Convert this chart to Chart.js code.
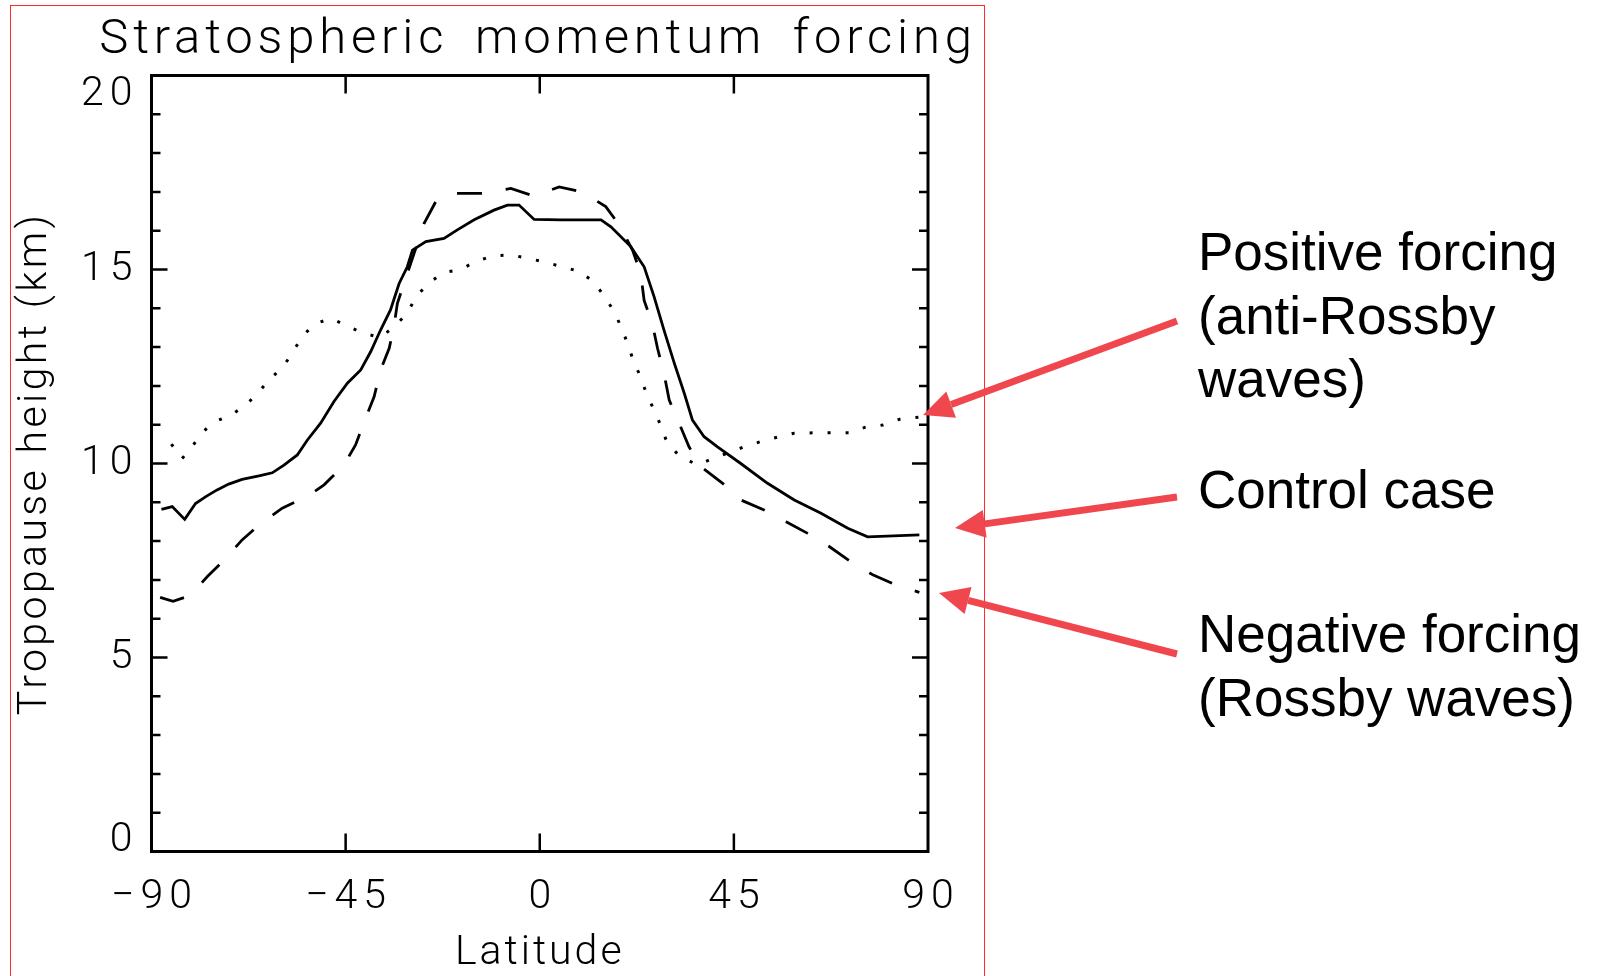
<!DOCTYPE html>
<html>
<head>
<meta charset="utf-8">
<script src="https://cdn.jsdelivr.net/npm/chart.js@4.4.1/dist/chart.umd.min.js"></script>
<style>
  html, body { margin: 0; padding: 0; background: #fff; }
  #wrap { position: relative; width: 1598px; height: 976px; overflow: hidden; }
  #frame { position: absolute; left: 10px; top: 5px; width: 973px; height: 1000px; border: 1px solid #ff2a2a; }
  canvas { position: absolute; left: 0; top: 0; }
  .title { position: absolute; left: 0; top: 12px; width: 1076px; text-align: center; white-space: nowrap;
           font: 300 49px Roboto, sans-serif; line-height: 49px; letter-spacing: 4.8px; word-spacing: 10px; color: #000; }
  .note { position: absolute; left: 1198px; white-space: nowrap; color: #000;
          font: 53px "Liberation Sans", Arial, sans-serif; line-height: 63.5px; }
</style>
</head>
<body>
<div id="wrap">
  <div id="frame"></div>
  <canvas id="chart" width="1598" height="976"></canvas>
  <div class="title">Stratospheric momentum forcing</div>
  <div class="note" style="top:220px">Positive forcing<br>(anti-Rossby<br>waves)</div>
  <div class="note" style="top:458px">Control case</div>
  <div class="note" style="top:602px">Negative forcing<br>(Rossby waves)</div>
</div>
<script>
// control case (solid)
const controlLat = [-87.7, -85.2, -82.3, -79.8, -77.5, -74.8, -72.1, -69.0, -65.1, -62.0, -59.3, -56.2,
  -53.9, -50.8, -47.7, -44.6, -41.5, -39.2, -36.9, -34.6, -32.6, -30.7, -29.5, -26.4, -22.2, -19.1,
  -15.2, -10.6, -7.5, -4.8, -1.3, 5.0, 14.2, 16.5, 21.1, 24.2, 26.5, 28.8, 31.2, 33.5, 35.4, 38.1,
  41.2, 46.6, 52.8, 59.0, 65.2, 71.4, 76.0, 88.0];
const controlHeight = [8.82, 8.89, 8.56, 8.97, 9.14, 9.32, 9.47, 9.59, 9.68, 9.76, 9.96, 10.22,
  10.6, 11.04, 11.6, 12.07, 12.41, 12.88, 13.44, 13.96, 14.64, 15.07, 15.5, 15.72, 15.8, 16.02,
  16.28, 16.53, 16.66, 16.66, 16.29, 16.28, 16.28, 16.1, 15.59, 15.07, 14.3, 13.44, 12.58, 11.81, 11.12, 10.69,
  10.43, 10.0, 9.49, 9.06, 8.72, 8.33, 8.11, 8.16];

// negative forcing, Rossby waves (dashed)
const negativeLat = [-88.0, -85.0, -81.0, -77.1, -73.2, -69.0, -65.1, -59.7, -53.9, -50.0, -45.4, -42.7,
  -40.4, -38.4, -36.9, -34.9, -33.8, -33.0, -26.8, -24.1, -21.0, -18.7, -12.5, -6.7, -1.3, 4.5, 9.9,
  15.3, 18.4, 21.5, 23.4, 24.2, 26.1, 27.3, 28.8, 30.0, 32.3, 34.6, 37.3, 42.4, 46.6, 52.0, 57.1,
  62.1, 67.1, 72.1, 77.2, 82.6, 88.0];
const negativeHeight = [6.55, 6.45, 6.6, 7.08, 7.51, 8.03, 8.41, 8.85, 9.15, 9.45, 9.96, 10.48,
  11.16, 11.72, 12.41, 12.97, 13.53, 14.13, 16.19, 16.75, 16.96, 16.96, 16.96, 17.09, 16.89, 17.13, 17.0,
  16.62, 16.15, 15.5, 14.9, 14.2, 13.6, 12.97, 12.32, 11.64, 11.04, 10.43, 9.92, 9.49, 9.06, 8.8, 8.5,
  8.2, 7.86, 7.47, 7.13, 6.87, 6.68];

// positive forcing, anti-Rossby waves (dotted)
const positiveLat = [-85.4, -82.9, -80.6, -78.4, -75.2, -71.3, -68.0, -65.1, -62.4, -59.5, -57.2, -55.0,
  -52.2, -48.3, -44.4, -40.7, -37.0, -34.0, -30.7, -28.8, -26.0, -22.3, -18.5, -14.8, -11.0, -6.7,
  -2.9, 0.9, 5.2, 8.9, 12.5, 14.9, 17.3, 18.8, 20.2, 21.7, 23.3, 24.7, 26.4, 28.1, 29.5, 32.4, 36.6,
  39.7, 47.4, 51.1, 55.4, 59.0, 63.3, 67.5, 71.8, 75.3, 79.5, 83.4, 88.5];
const positiveHeight = [10.5, 10.13, 10.43, 10.79, 11.08, 11.27, 11.52, 11.85, 12.19, 12.49, 12.88, 13.28,
  13.6, 13.74, 13.53, 13.35, 13.25, 13.5, 13.87, 14.28, 14.63, 14.92, 15.0, 15.2, 15.35, 15.38,
  15.29, 15.2, 15.07, 14.96, 14.69, 14.32, 13.91, 13.53, 13.14, 12.65, 12.25, 11.81, 11.4, 10.97, 10.54, 10.19, 9.96,
  10.11, 10.43, 10.56, 10.69, 10.78, 10.79, 10.79, 10.79, 10.93, 10.99, 11.14, 11.2];

const latTicks = [-90, -45, 0, 45, 90];
const heightTicks = [0, 5, 10, 15, 20];

const pts = (xs, ys) => xs.map((x, i) => ({ x, y: ys[i] }));
const tickFont = { family: 'Roboto', weight: 300, size: 41, lineHeight: 1 };

// wider spacing, like the old vector font
function spaced(scale, titleGap, labelGap) {
  const ctx = scale.ctx;
  const drawTitle = scale.drawTitle, drawLabels = scale.drawLabels;
  scale.drawTitle = function () { ctx.letterSpacing = titleGap; drawTitle.apply(this, arguments); ctx.letterSpacing = '0px'; };
  scale.drawLabels = function () { ctx.letterSpacing = labelGap; drawLabels.apply(this, arguments); ctx.letterSpacing = '0px'; };
}

const framePlugin = {
  id: 'frame',
  afterLayout(chart) {
    spaced(chart.scales.x, '3px', '6px');
    spaced(chart.scales.y, '3.4px', '6px');
  },
  beforeDraw(chart) {
    // IDL style: end labels on the y axis are pulled inside the axis range
    const y = chart.scales.y;
    y.getLabelItems().forEach((item, i) => {
      if (item.shifted) return;
      const v = y.ticks[i].value;
      if (v === heightTicks[0]) item.options.translation[1] -= 11;
      if (v === heightTicks[heightTicks.length - 1]) item.options.translation[1] += 19;
      item.shifted = true;
    });
  },
  afterDraw(chart) {
    const { ctx, chartArea: a, scales: { x, y } } = chart;
    ctx.save();
    ctx.strokeStyle = '#000';
    ctx.lineWidth = 3;
    ctx.strokeRect(a.left, a.top, a.right - a.left, a.bottom - a.top);
    ctx.lineWidth = 2.5;
    ctx.beginPath();
    for (let v = 0; v <= 20; v++) {
      const py = y.getPixelForValue(v);
      const len = v % 5 === 0 ? 16 : 9;
      ctx.moveTo(a.left, py); ctx.lineTo(a.left + len, py);
      ctx.moveTo(a.right, py); ctx.lineTo(a.right - len, py);
    }
    latTicks.slice(1, -1).forEach(v => {
      const px = x.getPixelForValue(v);
      ctx.moveTo(px, a.bottom); ctx.lineTo(px, a.bottom - 18);
      ctx.moveTo(px, a.top); ctx.lineTo(px, a.top + 18);
    });
    ctx.stroke();

    // annotation arrows
    const arrows = [[1177, 321, 923, 415], [1177, 497, 955, 528], [1177, 654, 939, 593]];
    ctx.strokeStyle = ctx.fillStyle = '#f0474f';
    ctx.lineWidth = 7;
    arrows.forEach(([x0, y0, x1, y1]) => {
      const ang = Math.atan2(y1 - y0, x1 - x0);
      const hl = 30, hw = 14;
      const bx = x1 - hl * Math.cos(ang), by = y1 - hl * Math.sin(ang);
      ctx.beginPath();
      ctx.moveTo(x0, y0); ctx.lineTo(bx, by);
      ctx.stroke();
      ctx.beginPath();
      ctx.moveTo(x1, y1);
      ctx.lineTo(bx + hw * Math.sin(ang), by - hw * Math.cos(ang));
      ctx.lineTo(bx - hw * Math.sin(ang), by + hw * Math.cos(ang));
      ctx.closePath();
      ctx.fill();
    });
    ctx.restore();
  }
};

new Chart(document.getElementById('chart'), {
  type: 'line',
  data: {
    datasets: [
      { label: 'Control case', data: pts(controlLat, controlHeight), borderColor: '#000', borderWidth: 2.8 },
      { label: 'Negative forcing', data: pts(negativeLat, negativeHeight), borderColor: '#000', borderWidth: 2.8, borderDash: [25, 24] },
      { label: 'Positive forcing', data: pts(positiveLat, positiveHeight), borderColor: '#000', borderWidth: 3, borderDash: [3, 15] }
    ]
  },
  options: {
    responsive: false,
    animation: false,
    elements: { point: { radius: 0 }, line: { tension: 0, borderCapStyle: 'butt' } },
    layout: { padding: { left: 11, right: 670, top: 75.5, bottom: 0 } },
    plugins: { legend: { display: false }, title: { display: false }, tooltip: { enabled: false } },
    scales: {
      x: {
        type: 'linear', min: -90, max: 90,
        afterBuildTicks: s => { s.ticks = latTicks.map(value => ({ value })); },
        afterFit: s => { s.height = 124.5; },
        grid: { display: false, drawTicks: false },
        border: { display: false },
        ticks: {
          padding: 26, labelOffset: 3, color: '#000', font: tickFont, maxRotation: 0, autoSkip: false,
          callback: v => v < 0 ? '\u2212' + Math.abs(v) : String(v)
        },
        title: { display: true, text: 'Latitude', color: '#000', padding: 0,
                 font: { family: 'Roboto', weight: 300, size: 41, lineHeight: 1.1 } }
      },
      y: {
        type: 'linear', min: 0, max: 20,
        afterBuildTicks: s => { s.ticks = heightTicks.map(value => ({ value })); },
        afterFit: s => { s.width = 140.5; },
        grid: { display: false, drawTicks: false },
        border: { display: false },
        ticks: { padding: 13, color: '#000', font: tickFont },
        title: { display: true, text: 'Tropopause height (km)', color: '#000', padding: 0,
                 font: { family: 'Roboto', weight: 300, size: 41, lineHeight: 1.2 } }
      }
    }
  },
  plugins: [framePlugin]
});
</script>
</body>
</html>
